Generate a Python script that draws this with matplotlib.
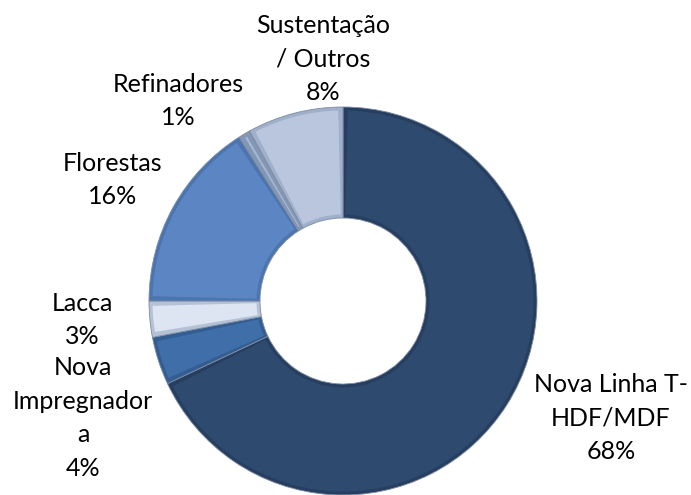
import matplotlib
matplotlib.use("Agg")
import matplotlib.pyplot as plt
from matplotlib.patches import Wedge
import numpy as np

# ---- data ----
categories = ["Nova Linha T-\nHDF/MDF", "Nova\nImpregnador\na", "Lacca",
              "Florestas", "Refinadores", "Sustentação\n/ Outros"]
values = [68, 4, 3, 16, 1, 8]
pct_labels = ["68%", "4%", "3%", "16%", "1%", "8%"]

# ---- styles / layout ----
colors = ["#2e4a6f", "#3f6ea9", "#dce5f1", "#5b86c3", "#a3b7d5", "#b9c6de"]
edge_colors = ["#263f60", "#345e92", "#b5c2d6", "#4c75af", "#8396b3", "#a0afca"]
label_pos = [(611, 418), (83, 418), (82, 320), (113, 180), (178, 101), (323, 59)]

W, H = 691, 495
cx, cy, R = 343, 301, 194
hole = 83

plt.rcParams['font.family'] = ['Lato', 'DejaVu Sans']
fig = plt.figure(figsize=(W / 100, H / 100), dpi=100)
ax = fig.add_axes([0, 0, 1, 1])

width = R - hole
wedges, _ = ax.pie(values, colors=edge_colors, startangle=90, counterclock=False,
                   radius=R, center=(cx, H - cy), frame=True,
                   wedgeprops=dict(width=width, edgecolor="#7d8ca3", linewidth=0.6))
ax.set_xlim(0, W)
ax.set_ylim(0, H)
ax.set_aspect('equal')
ax.axis('off')

# bevel: inset face of each wedge
inset = 3.5
for w, c in zip(wedges, colors):
    t1, t2 = w.theta1, w.theta2
    r_out = R - inset
    dang = np.degrees(inset / ((R + hole) / 2))
    if t2 - t1 > 2 * dang + 0.2:
        face = Wedge((cx, H - cy), r_out, t1 + dang, t2 - dang,
                     width=width - 2 * inset, facecolor=c, edgecolor='none')
        ax.add_patch(face)

for (x, y), cat, p in zip(label_pos, categories, pct_labels):
    ax.text(x, H - y, cat + "\n" + p, ha='center', va='center',
            multialignment='center', fontsize=18, linespacing=1.55,
            color='black')

fig.savefig("out.png", dpi=100)
